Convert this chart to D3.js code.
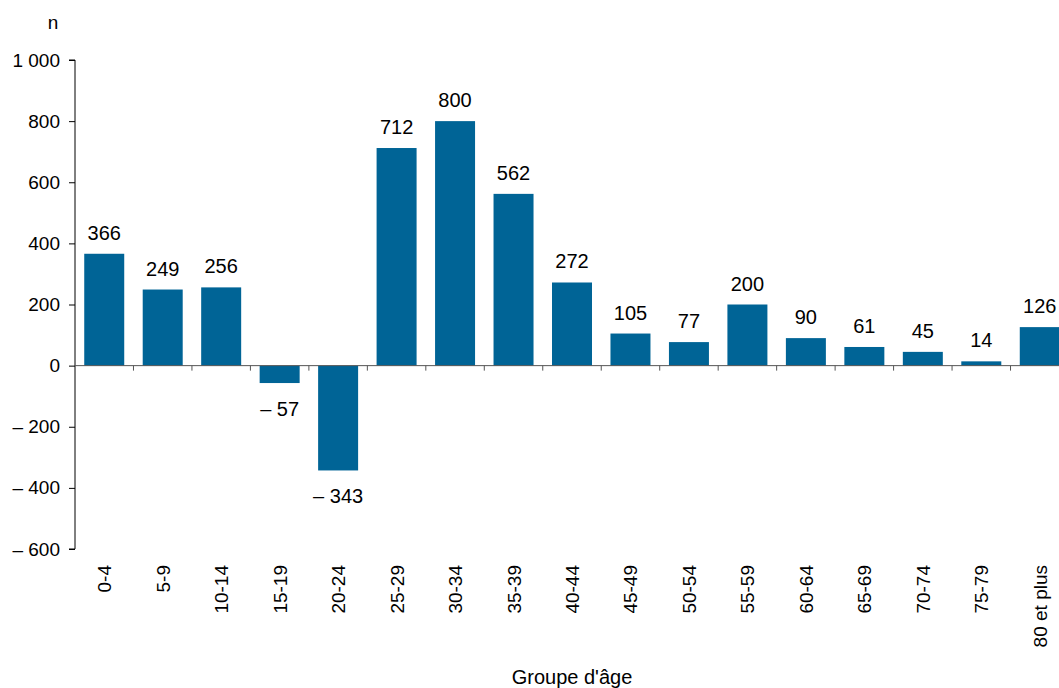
<!DOCTYPE html>
<html>
<head>
<meta charset="utf-8">
<script src="https://cdn.jsdelivr.net/npm/d3@7"></script>
<style>
body { margin: 0; background: #fff; }
svg { display: block; font-family: "Liberation Sans", Arial, sans-serif; }
</style>
</head>
<body>
<svg id="chart" width="1059" height="688"></svg>
<script>
const categories = ["0-4","5-9","10-14","15-19","20-24","25-29","30-34","35-39","40-44","45-49","50-54","55-59","60-64","65-69","70-74","75-79","80 et plus"];
const values = [366, 249, 256, -57, -343, 712, 800, 562, 272, 105, 77, 200, 90, 61, 45, 14, 126];
const yTicks = [-600, -400, -200, 0, 200, 400, 600, 800, 1000];
const yTickLabels = ["– 600", "– 400", "– 200", "0", "200", "400", "600", "800", "1 000"];
const valueLabels = ["366","249","256","– 57","– 343","712","800","562","272","105","77","200","90","61","45","14","126"];
const yTitle = "n";
const xTitle = "Groupe d'âge";

(function () {
const svg = d3.select("#chart");
const mLeft = 75, mRight = 1069, mTop = 60, mBottom = 549;
const barColor = "#006496";

const x = d3.scaleBand().domain(categories).range([mLeft, mRight]).paddingInner(0.316).paddingOuter(0.158);
const y = d3.scaleLinear().domain([-600, 1000]).range([mBottom, mTop]);

// bars
svg.append("g").selectAll("rect").data(values).join("rect")
  .attr("x", (d, i) => x(categories[i]))
  .attr("width", x.bandwidth())
  .attr("y", d => y(Math.max(0, d)))
  .attr("height", d => Math.abs(y(d) - y(0)))
  .attr("fill", barColor);

// y axis
const yAxis = d3.axisLeft(y).tickValues(yTicks).tickSize(6).tickPadding(9)
  .tickFormat((d, i) => yTickLabels[i]);
const gy = svg.append("g").attr("transform", `translate(${mLeft},0)`).call(yAxis);
gy.select(".domain").attr("stroke", "#000").attr("d", `M-6,${y(1000)}H0V${y(-600)}H-6`);
gy.selectAll(".tick line").attr("stroke", "#000");
gy.selectAll(".tick text").attr("font-size", 19).attr("fill", "#000")
  .attr("font-family", "Liberation Sans, Arial, sans-serif");

// zero line with category boundary ticks
const step = x.step();
const zeroG = svg.append("g").attr("transform", `translate(0,${y(0)})`);
zeroG.append("line").attr("x1", mLeft).attr("x2", mRight).attr("stroke", "#555").attr("stroke-width", 1);
const bounds = d3.range(1, categories.length + 1).map(k => mLeft + k * step);
zeroG.selectAll("line.bt").data(bounds).join("line").attr("class", "bt")
  .attr("x1", d => d).attr("x2", d => d).attr("y1", 0).attr("y2", 5)
  .attr("stroke", "#555");

// x category labels (rotated)
svg.append("g").selectAll("text").data(categories).join("text")
  .attr("transform", d => `translate(${x(d) + x.bandwidth() / 2 + 7},565) rotate(-90)`)
  .attr("text-anchor", "end")
  .attr("font-size", 19)
  .attr("fill", "#000")
  .text(d => d);

// value labels
svg.append("g").selectAll("text").data(values).join("text")
  .attr("x", (d, i) => x(categories[i]) + x.bandwidth() / 2)
  .attr("y", d => d >= 0 ? y(d) - 14 : y(d) + 33)
  .attr("text-anchor", "middle")
  .attr("font-size", 20)
  .attr("fill", "#000")
  .text((d, i) => valueLabels[i]);

// titles
svg.append("text").attr("x", 53).attr("y", 29).attr("text-anchor", "middle")
  .attr("font-size", 19).attr("fill", "#000").text(yTitle);
svg.append("text").attr("x", (mLeft + mRight) / 2).attr("y", 684).attr("text-anchor", "middle")
  .attr("font-size", 20).attr("fill", "#000").text(xTitle);
})();
</script>
</body>
</html>
